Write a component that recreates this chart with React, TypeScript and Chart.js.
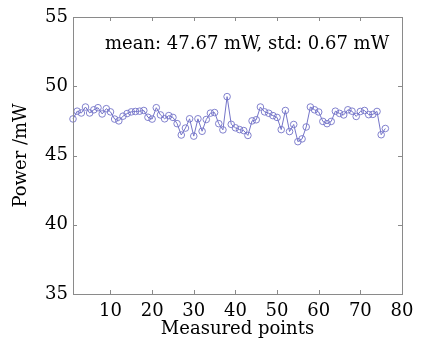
import { useEffect, useRef } from 'react';
import { Chart, registerables } from 'chart.js';

Chart.register(...registerables);

const pointIndex = [
  1, 2, 3, 4, 5, 6, 7, 8, 9, 10, 11, 12, 13, 14, 15, 16, 17, 18, 19, 20,
  21, 22, 23, 24, 25, 26, 27, 28, 29, 30, 31, 32, 33, 34, 35, 36, 37, 38, 39, 40,
  41, 42, 43, 44, 45, 46, 47, 48, 49, 50, 51, 52, 53, 54, 55, 56, 57, 58, 59, 60,
  61, 62, 63, 64, 65, 66, 67, 68, 69, 70, 71, 72, 73, 74, 75, 76,
];

const powerValues = [
  47.64, 48.2, 48.07, 48.5, 48.07, 48.3, 48.45, 48.0, 48.38, 48.15,
  47.63, 47.5, 47.84, 48.03, 48.15, 48.18, 48.2, 48.25, 47.76, 47.63,
  48.45, 47.93, 47.65, 47.88, 47.75, 47.3, 46.48, 46.98, 47.65, 46.4,
  47.65, 46.75, 47.6, 48.06, 48.1, 47.3, 46.85, 49.25, 47.25, 47.0,
  46.87, 46.8, 46.45, 47.5, 47.58, 48.5, 48.15, 48.05, 47.88, 47.75,
  46.87, 48.25, 46.73, 47.24, 46.0, 46.2, 47.06, 48.5, 48.3, 48.14,
  47.46, 47.3, 47.46, 48.2, 48.04, 47.93, 48.3, 48.2, 47.82, 48.18,
  48.25, 47.95, 47.97, 48.18, 46.5, 46.95,
];

const xTickValues = [10, 20, 30, 40, 50, 60, 70, 80];
const yTickValues = [35, 40, 45, 50, 55];

const annotationText = 'mean: 47.67 mW, std: 0.67 mW';
const annotationX = 42.8;
const annotationY = 53.0;

const FONT = '"DejaVu Serif", serif';

const framePlugin = {
  id: 'frame',
  afterDatasetsDraw(chart: any) {
    const { ctx, chartArea: a, scales } = chart;
    const xs = scales.x;
    const ys = scales.y;
    ctx.save();
    ctx.strokeStyle = '#8a8a8a';
    ctx.lineWidth = 1;
    ctx.strokeRect(Math.round(a.left) + 0.5, Math.round(a.top) + 0.5, Math.round(a.right - a.left), Math.round(a.bottom - a.top));
    const tl = 4;
    ctx.beginPath();
    xs.ticks.forEach((t: any) => {
      const px = Math.round(xs.getPixelForValue(t.value)) + 0.5;
      ctx.moveTo(px, a.bottom);
      ctx.lineTo(px, a.bottom - tl);
      ctx.moveTo(px, a.top);
      ctx.lineTo(px, a.top + tl);
    });
    ys.ticks.forEach((t: any) => {
      const py = Math.round(ys.getPixelForValue(t.value)) + 0.5;
      ctx.moveTo(a.left, py);
      ctx.lineTo(a.left + tl, py);
      ctx.moveTo(a.right, py);
      ctx.lineTo(a.right - tl, py);
    });
    ctx.stroke();
    ctx.fillStyle = '#000';
    ctx.font = '18px ' + FONT;
    ctx.textAlign = 'center';
    ctx.textBaseline = 'middle';
    ctx.fillText(annotationText, xs.getPixelForValue(annotationX), ys.getPixelForValue(annotationY));
    ctx.restore();
  },
};

export default function App() {
  const ref = useRef<HTMLCanvasElement | null>(null);

  useEffect(() => {
    if (!ref.current) return;
    const chart = new Chart(ref.current, {
      type: 'line',
      data: {
        datasets: [
          {
            data: pointIndex.map((x, i) => ({ x, y: powerValues[i] })),
            borderColor: '#7474c8',
            borderWidth: 1,
            pointRadius: 3.3,
            pointBorderWidth: 0.9,
            pointBorderColor: '#7474c8',
            pointBackgroundColor: 'rgba(0,0,0,0)',
            fill: false,
            tension: 0,
            clip: false as any,
          },
        ],
      },
      options: {
        animation: false,
        responsive: false,
        devicePixelRatio: 1,
        layout: { padding: { top: 17, right: 22, left: 0, bottom: 0 } },
        plugins: { legend: { display: false }, tooltip: { enabled: false } },
        scales: {
          x: {
            type: 'linear',
            min: 1,
            max: 80,
            grid: { display: false, drawTicks: false },
            border: { display: false },
            afterBuildTicks: (s: any) => {
              s.ticks = xTickValues.map((v) => ({ value: v }));
            },
            afterFit: (s: any) => {
              s.height = 46;
            },
            ticks: {
              color: '#000',
              font: { family: FONT, size: 18 },
              padding: 7,
              maxRotation: 0,
              autoSkip: false,
            },
            title: {
              display: true,
              text: 'Measured points',
              color: '#000',
              font: { family: FONT, size: 18 },
              padding: { top: 0, bottom: 0 },
            },
          },
          y: {
            type: 'linear',
            min: 35,
            max: 55,
            grid: { display: false, drawTicks: false },
            border: { display: false },
            afterBuildTicks: (s: any) => {
              s.ticks = yTickValues.map((v) => ({ value: v }));
            },
            afterFit: (s: any) => {
              s.width = 73;
            },
            ticks: {
              color: '#000',
              font: { family: FONT, size: 18 },
              padding: 5,
              autoSkip: false,
            },
            title: {
              display: true,
              text: 'Power /mW',
              color: '#000',
              font: { family: FONT, size: 18 },
              padding: { top: 11, bottom: 0 },
            },
          },
        },
      },
      plugins: [framePlugin],
    });
    return () => chart.destroy();
  }, []);

  return (
    <div style={{ position: 'absolute', left: 0, top: 0, width: 424, height: 340, background: '#fff' }}>
      <canvas ref={ref} width={424} height={340} style={{ width: 424, height: 340, display: 'block' }} />
    </div>
  );
}
